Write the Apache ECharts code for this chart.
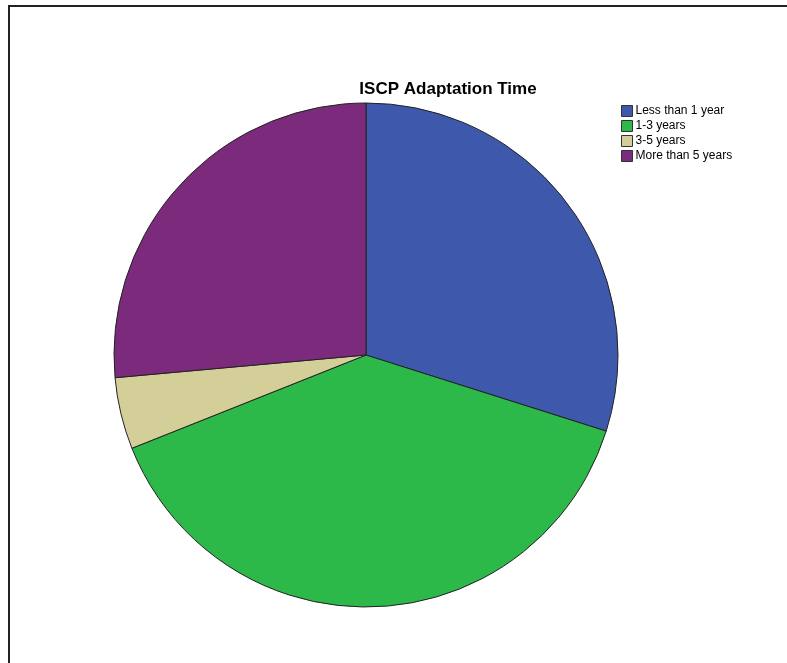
<!DOCTYPE html>
<html>
<head>
<meta charset="utf-8">
<script src="https://cdn.jsdelivr.net/npm/echarts@6/dist/echarts.min.js"></script>
<style>
  html, body { margin: 0; padding: 0; background: #fff; }
  #chart { width: 787px; height: 663px; }
</style>
</head>
<body>
<div id="chart"></div>
<script>
// Adaptation time categories and respondent counts
const categories = ['Less than 1 year', '1-3 years', '3-5 years', 'More than 5 years'];
const counts = [26, 34, 4, 23];
const colors = ['#3e58ac', '#2db84a', '#d4cf99', '#7b2a7c'];

const chart = echarts.init(document.getElementById('chart'));
chart.setOption({
  animation: false,
  title: {
    text: 'ISCP Adaptation Time',
    left: 448,
    textAlign: 'center',
    top: 81,
    padding: 0,
    textStyle: { fontFamily: 'Liberation Sans, Arial, sans-serif', fontSize: 17, fontWeight: 'bold', color: '#000' }
  },
  legend: {
    orient: 'vertical',
    left: 621,
    top: 105,
    padding: 0,
    itemWidth: 11,
    itemHeight: 11,
    itemGap: 3,
    icon: 'rect',
    selectedMode: false,
    itemStyle: { borderColor: '#333', borderWidth: 1 },
    textStyle: { fontFamily: 'Liberation Sans, Arial, sans-serif', fontSize: 12, color: '#000', padding: [0, 0, 0, -2] },
    data: categories
  },
  graphic: [
    { type: 'polyline', shape: { points: [[9, 663], [9, 6], [787, 6]] }, style: { stroke: '#222', lineWidth: 2, fill: null } }
  ],
  series: [{
    type: 'pie',
    center: [366, 355],
    radius: 252,
    startAngle: 90,
    clockwise: true,
    label: { show: false },
    labelLine: { show: false },
    emphasis: { disabled: true },
    itemStyle: { borderColor: '#222', borderWidth: 1 },
    data: categories.map((c, i) => ({ name: c, value: counts[i], itemStyle: { color: colors[i] } }))
  }]
});
</script>
</body>
</html>
